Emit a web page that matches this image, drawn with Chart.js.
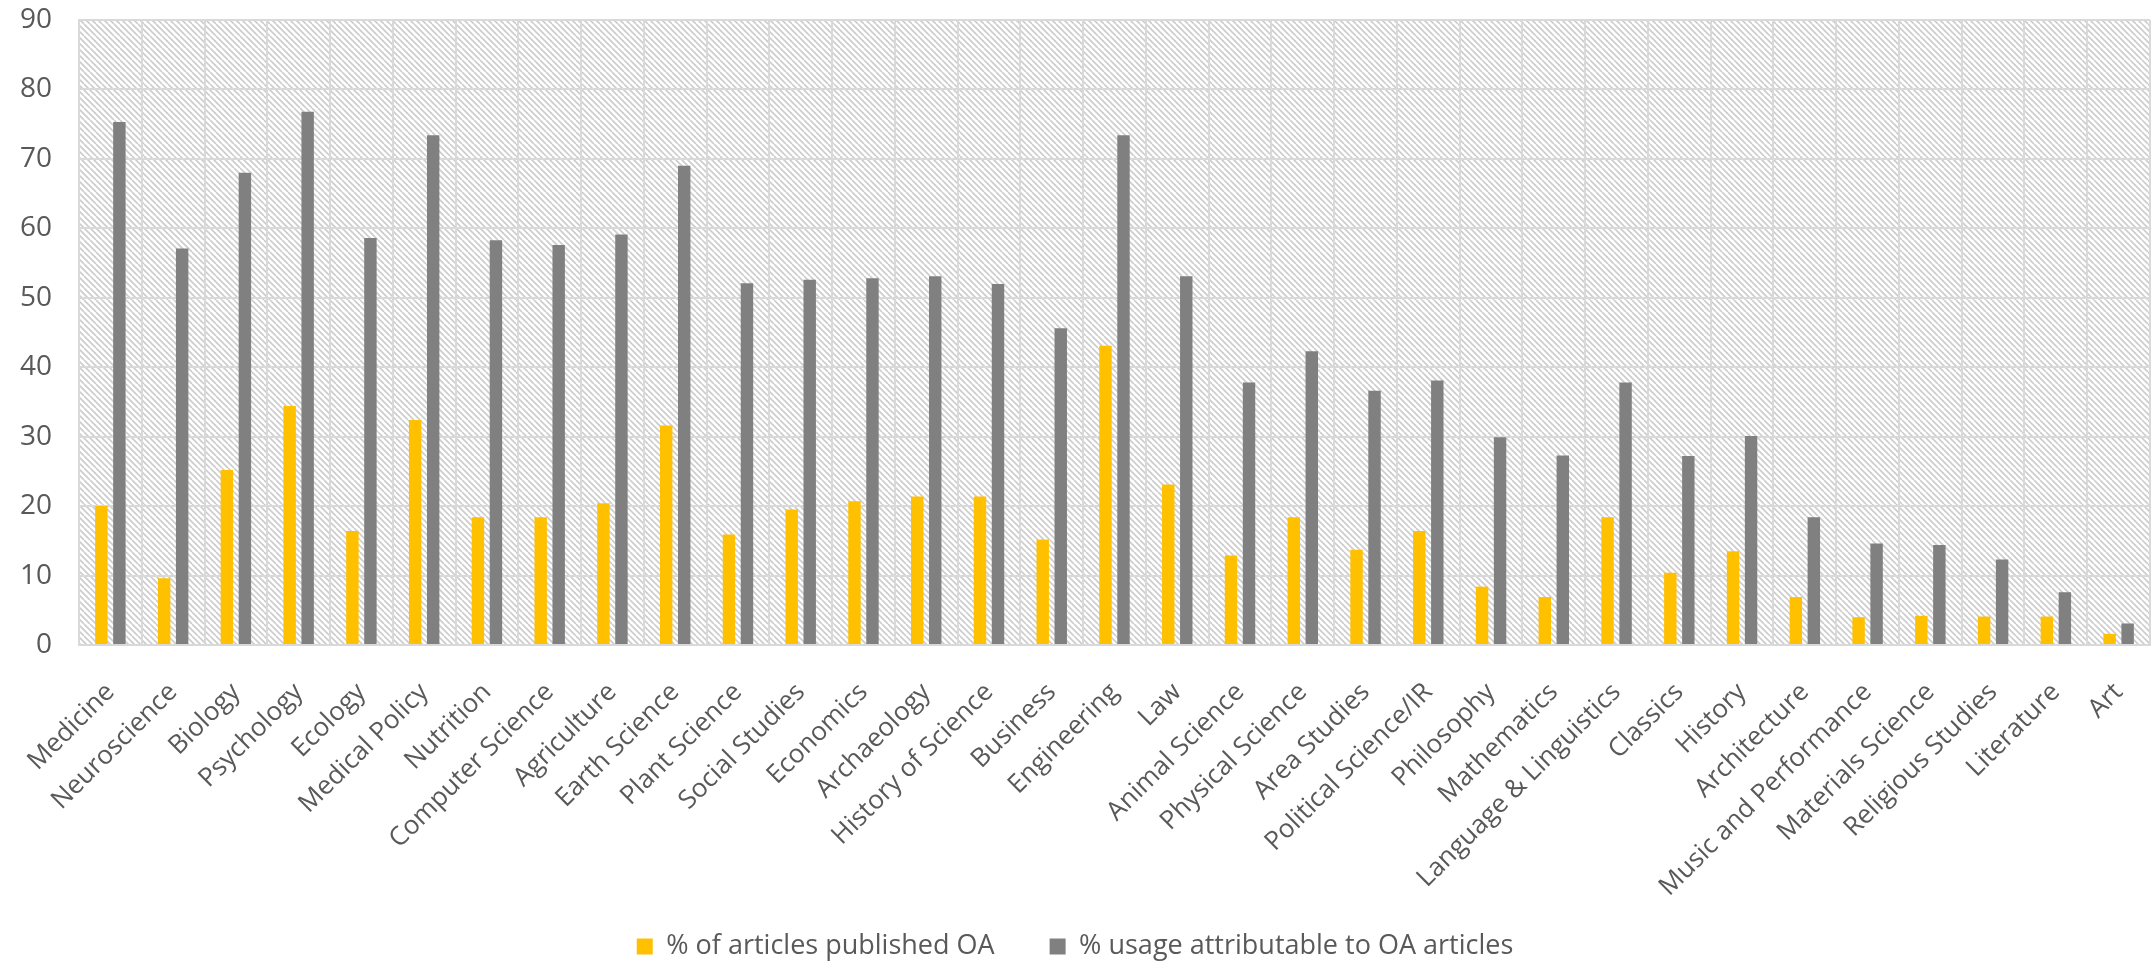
<!DOCTYPE html>
<html>
<head>
<meta charset="utf-8">
<script src="https://cdn.jsdelivr.net/npm/chart.js@4/dist/chart.umd.min.js"></script>
<style>
  html, body { margin: 0; padding: 0; background: #ffffff; }
  #wrap { width: 2154px; height: 963px; position: relative; }
</style>
</head>
<body>
<div id="wrap"><canvas id="c" width="2154" height="963"></canvas></div>
<script>
const categories = ["Medicine","Neuroscience","Biology","Psychology","Ecology","Medical Policy","Nutrition","Computer Science","Agriculture","Earth Science","Plant Science","Social Studies","Economics","Archaeology","History of Science","Business","Engineering","Law","Animal Science","Physical Science","Area Studies","Political Science/IR","Philosophy","Mathematics","Language & Linguistics","Classics","History","Architecture","Music and Performance","Materials Science","Religious Studies","Literature","Art"];
const oaPublished = [20.0, 9.6, 25.2, 34.4, 16.4, 32.4, 18.4, 18.4, 20.4, 31.6, 15.9, 19.5, 20.7, 21.4, 21.4, 15.2, 43.1, 23.1, 12.9, 18.4, 13.7, 16.4, 8.4, 6.9, 18.4, 10.4, 13.5, 6.9, 4.0, 4.2, 4.1, 4.1, 1.6];
const oaUsage = [75.3, 57.1, 68.0, 76.8, 58.6, 73.4, 58.3, 57.6, 59.1, 69.0, 52.1, 52.6, 52.8, 53.1, 52.0, 45.6, 73.4, 53.1, 37.8, 42.3, 36.6, 38.1, 29.9, 27.3, 37.8, 27.2, 30.1, 18.4, 14.6, 14.4, 12.3, 7.6, 3.1];
const seriesNames = ["% of articles published OA", "% usage attributable to OA articles"];
const yTicks = [0, 10, 20, 30, 40, 50, 60, 70, 80, 90];

const FONT = "'Open Sans', 'DejaVu Sans', sans-serif";
const TEXT = '#595959';
const GRID = '#d9d9d9';

function makePattern(ctx) {
  const t = document.createElement('canvas');
  t.width = 12; t.height = 12;
  const g = t.getContext('2d');
  g.fillStyle = '#ffffff';
  g.fillRect(0, 0, 12, 12);
  g.strokeStyle = '#cccccc';
  g.lineWidth = 1.6;
  for (let k = -12; k <= 24; k += 6) {
    g.beginPath();
    g.moveTo(k, 0);
    g.lineTo(k + 12, 12);
    g.stroke();
  }
  return ctx.createPattern(t, 'repeat');
}

const hatchPlugin = {
  id: 'hatch',
  beforeDraw(chart) {
    const {ctx, chartArea: a} = chart;
    ctx.save();
    ctx.fillStyle = makePattern(ctx);
    ctx.fillRect(a.left, a.top, a.right - a.left, a.bottom - a.top);
    ctx.restore();
  }
};

new Chart(document.getElementById('c'), {
  type: 'bar',
  data: {
    labels: categories,
    datasets: [
      { label: seriesNames[0], data: oaPublished, backgroundColor: '#FFC000', categoryPercentage: 0.574, barPercentage: 0.69 },
      { label: seriesNames[1], data: oaUsage, backgroundColor: '#808080', categoryPercentage: 0.574, barPercentage: 0.69 }
    ]
  },
  options: {
    responsive: false,
    animation: false,
    layout: { padding: { top: 20, right: 4, left: 0, bottom: -7 } },
    plugins: {
      legend: {
        position: 'bottom',
        labels: {
          color: TEXT,
          font: { family: FONT, size: 27 },
          boxWidth: 16,
          boxHeight: 16,
          padding: 55
        }
      },
      tooltip: { enabled: false }
    },
    scales: {
      x: {
        offset: true,
        grid: { display: true, offset: true, color: GRID, lineWidth: 2, drawTicks: false },
        border: { display: true, color: GRID, width: 2 },
        ticks: {
          color: TEXT,
          font: { family: FONT, size: 26 },
          minRotation: 45,
          maxRotation: 45,
          autoSkip: false,
          padding: 32
        },
        afterFit(scale) {
          scale.height = 233;
          scale.paddingLeft = 0;
          scale.paddingRight = 0;
          scale._computeLabelArea = () => undefined;
        }
      },
      y: {
        min: 0,
        max: 90,
        afterBuildTicks(scale) { scale.ticks = yTicks.map(v => ({ value: v })); },
        grid: { color: GRID, lineWidth: 2, drawTicks: false },
        border: { display: true, color: GRID, width: 2 },
        ticks: {
          color: TEXT,
          font: { family: FONT, size: 28 },
          padding: 27
        },
        afterFit(scale) {
          scale.width = 79;
          scale.paddingTop = 0;
          scale.paddingBottom = 0;
        }
      }
    }
  },
  plugins: [hatchPlugin]
});
</script>
</body>
</html>
